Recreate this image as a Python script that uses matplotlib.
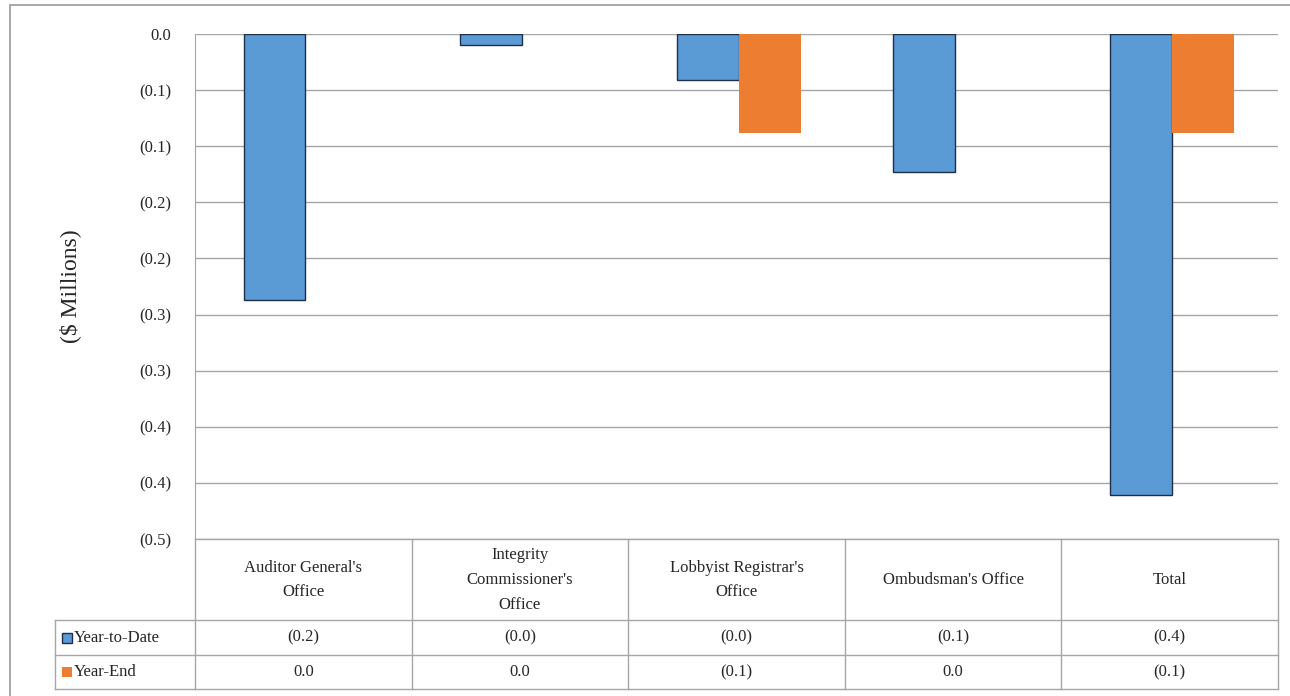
import matplotlib.pyplot as plt
from matplotlib.lines import Line2D
from matplotlib.patches import Rectangle

offices = ["Auditor General's\nOffice", "Integrity\nCommissioner's\nOffice",
           "Lobbyist Registrar's\nOffice", "Ombudsman's Office", "Total"]
year_to_date = [-0.237, -0.010, -0.041, -0.123, -0.411]
year_end = [0.0, 0.0, -0.088, 0.0, -0.088]
series_names = ['Year-to-Date', 'Year-End']
yticks = [0, -0.05, -0.10, -0.15, -0.20, -0.25, -0.30, -0.35, -0.40, -0.45]
ytick_labels = ['0.0', '(0.1)', '(0.1)', '(0.2)', '(0.2)', '(0.3)', '(0.3)', '(0.4)', '(0.4)', '(0.5)']

blue = '#5b9bd5'
orange = '#ed7d31'
grid_c = '#a6a6a6'
txt_c = '#262626'
plt.rcParams['font.family'] = ['Liberation Serif', 'DejaVu Serif']

W, H = 1290, 696
fig = plt.figure(figsize=(W / 100, H / 100), dpi=100)

def fx(px):
    return px / W

def fy(py):
    return 1 - py / H

def hline(x0, x1, y):
    fig.add_artist(Line2D([fx(x0), fx(x1)], [fy(y), fy(y)], transform=fig.transFigure,
                          color=grid_c, lw=1))

def vline(x, y0, y1):
    fig.add_artist(Line2D([fx(x), fx(x)], [fy(y0), fy(y1)], transform=fig.transFigure,
                          color=grid_c, lw=1))

# outer frame
fig.add_artist(Rectangle((fx(10), fy(700)), fx(1300) - fx(10), fy(5) - fy(700),
                         transform=fig.transFigure, fill=False, ec='#9a9a9a', lw=1.2))

left, right, top, bottom = 195, 1278, 34, 539
ax = fig.add_axes([fx(left), fy(bottom), fx(right) - fx(left), fy(top) - fy(bottom)])
x = list(range(len(offices)))
w = 0.286
ax.bar([i - w / 2 + 0.01 for i in x], year_to_date, w, color=blue, edgecolor='#1f2d4d', lw=1, zorder=3)
ax.bar([i + w / 2 + 0.01 for i in x], year_end, w, color=orange, edgecolor='none', zorder=3)
ax.set_xlim(-0.5, len(offices) - 0.5)
ax.set_ylim(-0.45, 0)
ax.set_yticks(yticks)
ax.set_yticklabels(ytick_labels, fontsize=12, color=txt_c)
ax.tick_params(axis='y', length=0, pad=17)
ax.set_xticks([])
ax.grid(axis='y', color=grid_c, lw=1, zorder=0)
for s in ['top', 'right', 'bottom']:
    ax.spines[s].set_visible(False)
ax.spines['left'].set_color(grid_c)
ax.set_ylabel('($ Millions)', fontsize=17, color=txt_c, labelpad=42)

# data table under the chart
cell_w = (right - left) / len(offices)
for i in range(len(offices) + 1):
    vline(left + i * cell_w, 539, 689)
hline(left, right, 539)
for r in [620, 655, 689]:
    hline(55, right, r)
vline(55, 620, 689)

def fmt(v):
    s = '%.1f' % abs(v)
    return '(%s)' % s if v < 0 else s

for i, name in enumerate(offices):
    cx = fx(left + (i + 0.5) * cell_w)
    fig.text(cx, fy(580), name, ha='center', va='center', fontsize=12, color=txt_c, linespacing=1.75)
    fig.text(cx, fy(637.5), fmt(year_to_date[i]), ha='center', va='center', fontsize=12, color=txt_c)
    fig.text(cx, fy(672), fmt(year_end[i]), ha='center', va='center', fontsize=12, color=txt_c)

for (name, c, ec), yc in zip([(series_names[0], blue, '#1f2d4d'), (series_names[1], orange, 'none')], [637.5, 672]):
    fig.add_artist(Rectangle((fx(62), fy(yc + 5)), fx(10), fy(yc - 5) - fy(yc + 5),
                             transform=fig.transFigure, fc=c, ec=ec, lw=1))
    fig.text(fx(74), fy(yc), name, ha='left', va='center', fontsize=12, color=txt_c)

fig.savefig('out.png', dpi=100)
